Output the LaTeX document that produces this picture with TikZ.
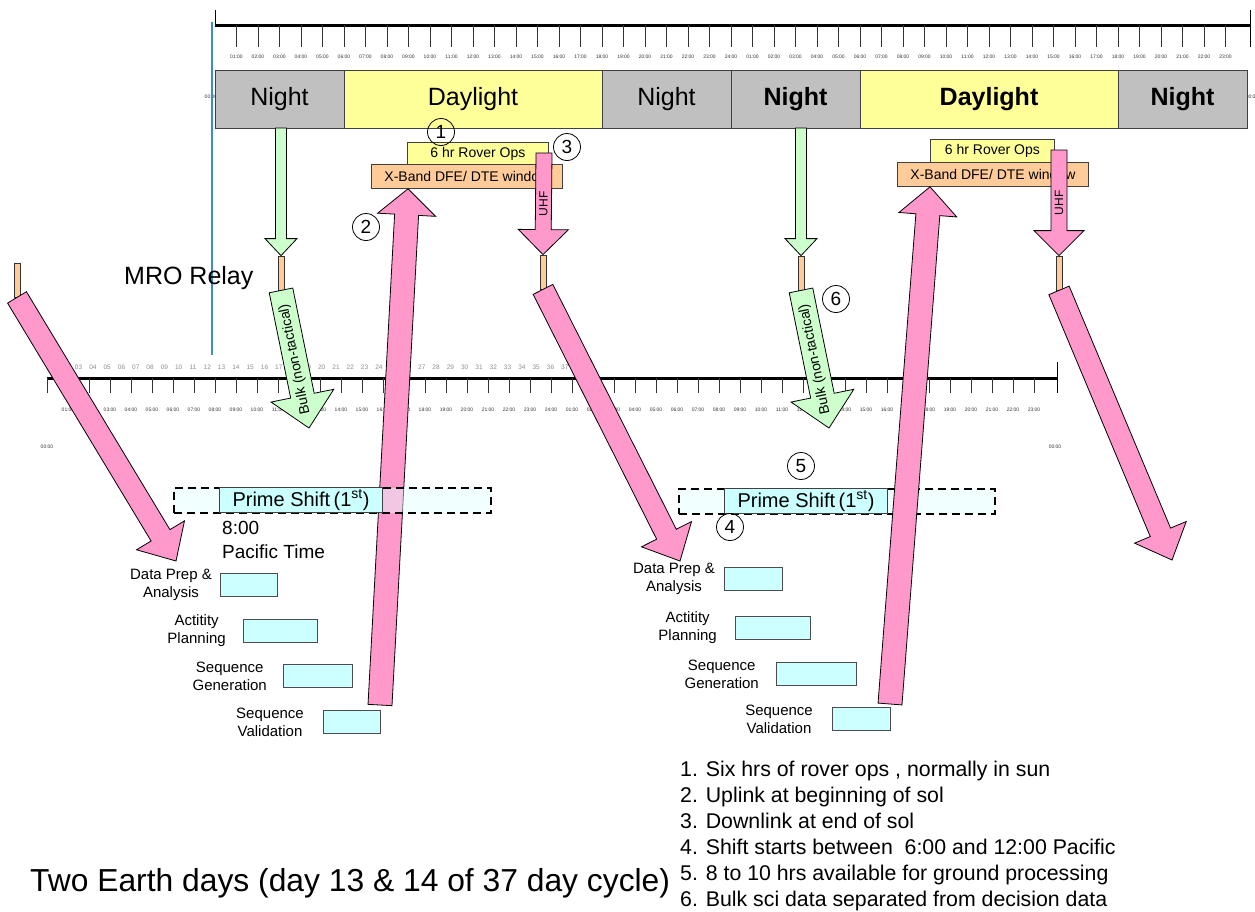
\documentclass[tikz,border=0pt]{standalone}
\usepackage{fontspec}
\setmainfont{Liberation Sans}
\usetikzlibrary{calc,positioning}

\definecolor{nightgray}{HTML}{C0C0C0}
\definecolor{dayyellow}{HTML}{FFFF99}
\definecolor{linkpink}{HTML}{FF99CC}
\definecolor{relaygreen}{HTML}{CCFFCC}
\definecolor{passorange}{HTML}{FFCC99}
\definecolor{shiftcyan}{HTML}{CCFFFF}
\definecolor{markerblue}{HTML}{3C8DC8}

\tikzstyle{night}=[
        draw = black!75,
        line width = 1pt,
        fill = nightgray,
        minimum height = 58pt,
        inner sep = 0pt,
        outer sep = 0pt,
        font = \fontsize{25}{25}\selectfont
    ]
\tikzstyle{daylight}=[night, fill = dayyellow]
\tikzstyle{rover}=[
    draw = black!75,
    line width = 0.8pt,
    fill = dayyellow,
    inner sep = 0pt,
    anchor = north west,
    font = \fontsize{14}{14}\selectfont
]
\tikzstyle{xband}=[rover, fill = passorange, minimum width = 191pt, minimum height = 24pt]
\tikzstyle{relay}=[
    draw = black!80,
    line width = 0.8pt,
    fill = passorange,
    minimum width = 6pt,
    minimum height = 34pt,
    inner sep = 0pt
]
\tikzstyle{task}=[
    draw = black!70,
    line width = 1pt,
    fill = shiftcyan,
    minimum height = 23pt,
    inner sep = 0pt,
    anchor = north west
]
\tikzstyle{tasklabel}=[align = center, inner sep = 0pt, font = \fontsize{15}{18}\selectfont]
\tikzstyle{prime}=[
    draw = black!75,
    line width = 1pt,
    fill = shiftcyan,
    minimum height = 25pt,
    inner sep = 0pt,
    anchor = north west,
    font = \fontsize{20}{20}\selectfont
]
\tikzstyle{primewindow}=[
    draw = black,
    line width = 1.8pt,
    dash pattern = on 8pt off 5pt,
    fill = shiftcyan!60,
    fill opacity = 0.45,
    minimum height = 25pt,
    inner sep = 0pt,
    anchor = north west
]
\tikzstyle{numcircle}=[draw, circle, line width = 0.8pt, minimum size = 27pt, inner sep = 0pt, font = \fontsize{19}{19}\selectfont]
\tikzstyle{pinkarrow}=[draw = black, line width = 0.8pt, fill = linkpink]
\tikzstyle{greenarrow}=[draw = black, line width = 0.8pt, fill = relaygreen]
\tikzstyle{hourlabel}=[inner sep = 0pt, font = \fontsize{5}{5}\selectfont, text = black!80]
\tikzstyle{solnum}=[inner sep = 0pt, font = \fontsize{6.5}{6.5}\selectfont, text = black!45]

% block arrow: style, tail, tip, half shaft, half head, head length
\newcommand{\blockarrow}[6]{%
  \coordinate (ba-base) at ($(#3)!#6!(#2)$);
  \draw[#1] ($(#2)!#4!90:(#3)$) -- ($(ba-base)!#4!90:(#3)$) -- ($(ba-base)!#5!90:(#3)$)
    -- (#3) -- ($(ba-base)!#5!-90:(#3)$) -- ($(ba-base)!#4!-90:(#3)$) -- ($(#2)!#4!-90:(#3)$) -- cycle;
}

\begin{document}
\begin{tikzpicture}[x=1pt, y=-1pt]
        \useasboundingbox (0,0) rectangle (1255,911);

        % sol timeline
        \draw[line width = 3pt] (215,25) -- (1250,25);
        \draw[line width = 1pt] (215,10) -- (215,25);
        \draw[line width = 1pt] (1250,10) -- (1250,47);
        \foreach \h in {1,...,47} {
            \draw[line width = 1pt, black!80] ({215+21.5*\h},25) -- ++(0,22);
            \pgfmathtruncatemacro{\hh}{\h>24 ? \h-24 : \h}
            \node[hourlabel] at ({215+21.5*\h},57) {\ifnum\hh<10 0\fi\hh:00};
        }
        \node[hourlabel] at (211,97) {00:00};
        \node[hourlabel] at (1252,97) {00:00};
        \draw[markerblue, line width = 1.2pt] (212,22) -- (212,355);

        \node[night, minimum width = 129pt, anchor = west] (n1) at (215,99) {Night};
        \node[daylight, minimum width = 258pt, right = 0pt of n1] (d1) {Daylight};
        \node[night, minimum width = 129pt, right = 0pt of d1] (n2) {Night};
        \node[night, minimum width = 129pt, right = 0pt of n2, font = \fontsize{25}{25}\selectfont\bfseries] (n3) {Night};
        \node[daylight, minimum width = 258pt, right = 0pt of n3, font = \fontsize{25}{25}\selectfont\bfseries] (d2) {Daylight};
        \node[night, minimum width = 129pt, right = 0pt of d2, font = \fontsize{25}{25}\selectfont\bfseries] (n4) {Night};

        % earth timeline
        \draw[line width = 3pt] (47,378) -- (1057,378);
        \draw[line width = 1pt] (1057,362) -- (1057,393);
        \foreach \h in {0,...,47} \draw[line width = 1pt, black!80] ({47+21*\h},378) -- ++(0,15);
        \foreach \h in {1,...,47} {
            \pgfmathtruncatemacro{\hh}{\h>24 ? \h-24 : \h}
            \node[hourlabel] at ({47+21*\h},410) {\ifnum\hh<10 0\fi\hh:00};
        }
        \foreach \d in {1,...,37} \node[solnum] at ({50+14.3*(\d-1)},367) {\ifnum\d<10 0\fi\d};
        \node[hourlabel] at (47,447) {00:00};
        \node[hourlabel] at (1055,447) {00:00};

        % rover ops and x-band windows
        \node[rover, minimum width = 141pt, minimum height = 22pt] (ops1) at (407,142) {6 hr Rover Ops};
        \node[xband] (xb1) at (371,164) {X-Band DFE/ DTE window};
        \node[rover, minimum width = 124pt, minimum height = 23pt] (ops2) at (930,139) {6 hr Rover Ops};
        \node[xband] (xb2) at (897,162) {X-Band DFE/ DTE window};

        % relay passes
        \node[relay] (r0) at (17,280) {};
        \node[relay] (mro1) at (281,273) {};
        \node[relay] (uhf1) at (543,272) {};
        \node[relay] (mro2) at (801,273) {};
        \node[relay] (uhf2) at (1059,273) {};
        \node[anchor = base west, inner sep = 0pt, font = \fontsize{25}{25}\selectfont] (mrolabel) at (124,284) {MRO Relay};

        \blockarrow{greenarrow}{mro1 |- n1.south}{mro1.north}{5.5pt}{16pt}{17pt}
        \blockarrow{greenarrow}{mro2 |- n3.south}{mro2.north}{5.5pt}{16pt}{17pt}

        \coordinate (bulk1) at (309,428);
        \coordinate (bulk2) at (829,428);
        \blockarrow{greenarrow}{mro1.south}{bulk1}{12pt}{32pt}{33pt}
        \blockarrow{greenarrow}{mro2.south}{bulk2}{12pt}{32pt}{33pt}
        \path (bulk1) -- (mro1.south) node[midway, sloped, allow upside down, font = \fontsize{14}{14}\selectfont] {Bulk (non-tactical)};
        \path (bulk2) -- (mro2.south) node[midway, sloped, allow upside down, font = \fontsize{14}{14}\selectfont] {Bulk (non-tactical)};

        % ground shift, day 13
        \node[anchor = base west, inner sep = 0pt, font = \fontsize{19}{19}\selectfont] (t1) at (222,534) {8:00};
        \node[anchor = base west, inner sep = 0pt, font = \fontsize{19}{19}\selectfont] (t2) at (222,558) {Pacific Time};

        \node[task, minimum width = 57pt] (a1) at (220,573) {};
        \node[task, minimum width = 74pt] (a2) at (243,619) {};
        \node[task, minimum width = 69pt] (a3) at (283,664) {};
        \node[task, minimum width = 57pt] (a4) at (323,710) {};
        \node[tasklabel, left = 8pt of a1] {Data Prep \&\\Analysis};
        \node[tasklabel, left = 17pt of a2] {Actitity\\Planning};
        \node[tasklabel, left = 16pt of a3] {Sequence\\Generation};
        \node[tasklabel, left = 19pt of a4] {Sequence\\Validation};

        % ground shift, day 14
        \node[primewindow, minimum width = 316pt] (pw2) at (678,488) {};
        \node[prime, minimum width = 163pt] (sh2) at (724,488) {Prime Shift\,(1\textsuperscript{st})};

        \node[task, minimum width = 58pt] (b1) at (724,567) {};
        \node[task, minimum width = 75pt] (b2) at (735,616) {};
        \node[task, minimum width = 80pt] (b3) at (776,662) {};
        \node[task, minimum width = 58pt] (b4) at (832,707) {};
        \node[tasklabel, left = 9pt of b1] {Data Prep \&\\Analysis};
        \node[tasklabel, left = 18pt of b2] {Actitity\\Planning};
        \node[tasklabel, left = 17pt of b3] {Sequence\\Generation};
        \node[tasklabel, left = 19pt of b4] {Sequence\\Validation};

        % uplinks and downlinks
        \coordinate (dl0) at (176,561);
        \coordinate (dl1) at (680,561);
        \coordinate (dl2) at (1172,560);
        \coordinate (ul1) at (380,705);
        \coordinate (ul2) at (890,704);
        \coordinate (uhf1top) at (544,153);
        \coordinate (uhf2top) at (1059,150);

        \blockarrow{pinkarrow}{r0.south}{dl0}{11pt}{28pt}{30pt}
        \blockarrow{pinkarrow}{ul1}{xb1.south -| 408,0}{12pt}{29pt}{26pt}
        \node[primewindow, minimum width = 317pt] (pw1) at (173,487) {};
        \node[prime, minimum width = 163pt] (sh1) at (219,487) {Prime Shift\,(1\textsuperscript{st})};

        \blockarrow{pinkarrow}{uhf1top}{uhf1.north}{8pt}{25pt}{25pt}
        \blockarrow{pinkarrow}{uhf2top}{uhf2.north}{8pt}{25pt}{25pt}
        \path (uhf1.north) -- (uhf1top) node[midway, sloped, font = \fontsize{12}{12}\selectfont] {UHF};
        \path (uhf2.north) -- (uhf2top) node[midway, sloped, font = \fontsize{12}{12}\selectfont] {UHF};

        \blockarrow{pinkarrow}{uhf1.south}{dl1}{11pt}{28pt}{30pt}
        \blockarrow{pinkarrow}{uhf2.south}{dl2}{11pt}{28pt}{30pt}
        \blockarrow{pinkarrow}{ul2}{xb2.south -| 930,0}{12pt}{29pt}{28pt}

        % callouts
        \node[numcircle] (c1) at (441,132) {1};
        \node[numcircle] (c2) at (366,227) {2};
        \node[numcircle] (c3) at (567,147) {3};
        \node[numcircle] (c4) at (730,527) {4};
        \node[numcircle] (c5) at (801,466) {5};
        \node[numcircle] (c6) at (836,299) {6};

        \foreach \t [count=\i] in {{Six hrs of rover ops , normally in sun},
                                  {Uplink at beginning of sol},
                                  {Downlink at end of sol},
                                  {Shift starts between \ 6:00 and 12:00 Pacific},
                                  {8 to 10 hrs available for ground processing},
                                  {Bulk sci data separated from decision data}}
            \node[anchor = base west, inner sep = 0pt, font = \fontsize{21.3}{21.3}\selectfont] (note\i) at (680,{750+26*\i}) {\i. \t};

        \node[anchor = base west, inner sep = 0pt, font = \fontsize{31.8}{31.8}\selectfont] (caption) at (30,891) {Two Earth days (day 13 \& 14 of 37 day cycle)};

    \end{tikzpicture}
\end{document}
